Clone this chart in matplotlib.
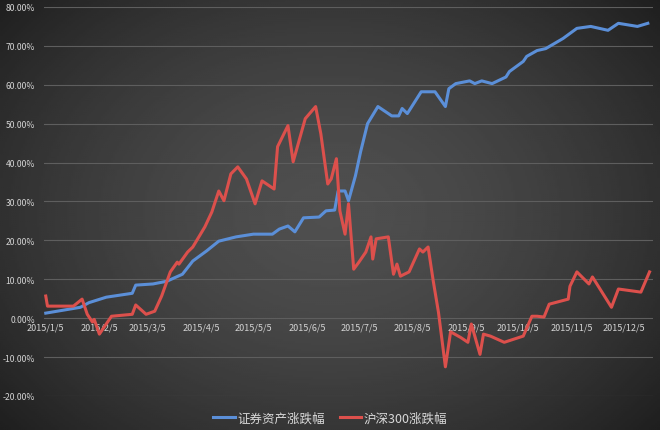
import numpy as np
import pandas as pd
import matplotlib
matplotlib.use('Agg')
import matplotlib.pyplot as plt

plt.rcParams['font.family'] = ['Noto Sans CJK SC', 'DejaVu Sans']

# 证券资产涨跌幅 (blue)
sec_dates = ['2015-01-05', '2015-01-25', '2015-01-30', '2015-02-09', '2015-02-24', '2015-02-26',
             '2015-03-08', '2015-03-16', '2015-03-25', '2015-03-31', '2015-04-08', '2015-04-15',
             '2015-04-25', '2015-05-05', '2015-05-16', '2015-05-20', '2015-05-25', '2015-05-29',
             '2015-06-03', '2015-06-12', '2015-06-16', '2015-06-21', '2015-06-23', '2015-06-27',
             '2015-06-29', '2015-07-03', '2015-07-06', '2015-07-10', '2015-07-16', '2015-07-24',
             '2015-07-28', '2015-07-30', '2015-08-02', '2015-08-10', '2015-08-18', '2015-08-24',
             '2015-08-26', '2015-08-30', '2015-09-07', '2015-09-10', '2015-09-14', '2015-09-20',
             '2015-09-28', '2015-09-30', '2015-10-08', '2015-10-10', '2015-10-16', '2015-10-21',
             '2015-10-31', '2015-11-08', '2015-11-16', '2015-11-26', '2015-12-02', '2015-12-13',
             '2015-12-19']
sec_vals = [1.3, 2.8, 4.0, 5.4, 6.4, 8.5,
            8.8, 9.5, 11.3, 14.7, 17.3, 19.8,
            20.9, 21.6, 21.6, 22.9, 23.7, 22.2,
            25.8, 26.0, 27.6, 27.8, 32.7, 32.7,
            30.2, 36.6, 42.8, 50.0, 54.4, 52.0,
            52.0, 53.9, 52.6, 58.2, 58.2, 54.4,
            59.0, 60.3, 61.0, 60.3, 61.0, 60.3,
            62.0, 63.4, 66.0, 67.3, 68.8, 69.3,
            71.9, 74.5, 75.0, 74.0, 75.8, 75.0,
            75.8]

# 沪深300涨跌幅 (red)
hs_dates = ['2015-01-05', '2015-01-06', '2015-01-21', '2015-01-26', '2015-01-29', '2015-02-01',
            '2015-02-02', '2015-02-05', '2015-02-12', '2015-02-24', '2015-02-26', '2015-03-04',
            '2015-03-09', '2015-03-13', '2015-03-18', '2015-03-22', '2015-03-23', '2015-03-28',
            '2015-03-31', '2015-04-07', '2015-04-11', '2015-04-15', '2015-04-18', '2015-04-22',
            '2015-04-26', '2015-05-01', '2015-05-06', '2015-05-10', '2015-05-17', '2015-05-19',
            '2015-05-25', '2015-05-28', '2015-06-04', '2015-06-10', '2015-06-13', '2015-06-17',
            '2015-06-19', '2015-06-22', '2015-06-24', '2015-06-27', '2015-06-29', '2015-07-02',
            '2015-07-05', '2015-07-09', '2015-07-12', '2015-07-13', '2015-07-15', '2015-07-22',
            '2015-07-25', '2015-07-27', '2015-07-29', '2015-08-03', '2015-08-09', '2015-08-11',
            '2015-08-14', '2015-08-17', '2015-08-20', '2015-08-24', '2015-08-27', '2015-09-02',
            '2015-09-06', '2015-09-08', '2015-09-13', '2015-09-15', '2015-09-19', '2015-09-27',
            '2015-10-08', '2015-10-13', '2015-10-16', '2015-10-20', '2015-10-23', '2015-11-03',
            '2015-11-04', '2015-11-08', '2015-11-15', '2015-11-17', '2015-11-28', '2015-12-02',
            '2015-12-15', '2015-12-20']
hs_vals = [5.7, 3.1, 3.1, 4.9, 1.0, -1.0,
           -0.3, -4.1, 0.5, 1.0, 3.4, 1.0,
           1.8, 5.7, 11.9, 14.4, 13.9, 17.0,
           18.3, 23.5, 27.3, 32.7, 30.2, 37.1,
           38.9, 35.8, 29.4, 35.3, 33.2, 44.1,
           49.5, 40.2, 51.3, 54.4, 47.4, 34.5,
           35.8, 41.0, 27.6, 21.6, 29.4, 12.6,
           14.4, 17.0, 20.9, 15.2, 20.4, 20.9,
           11.3, 13.9, 10.8, 11.9, 17.8, 17.0,
           18.3, 9.5, 1.5, -12.5, -3.5, -5.0,
           -6.2, -1.5, -9.3, -4.1, -4.6, -6.2,
           -4.6, 0.5, 0.5, 0.3, 3.6, 4.9,
           8.2, 11.9, 8.8, 10.6, 2.8, 7.5,
           6.7, 11.9]

tick_months = list(range(1, 13))
y_ticks = list(range(-20, 81, 10))

fig = plt.figure(figsize=(6.6, 4.31), dpi=100)

# dark radial background
bg = fig.add_axes([0, 0, 1, 1], zorder=-1)
gx, gy = np.meshgrid(np.linspace(-1, 1, 330), np.linspace(-1, 1, 216))
r = np.sqrt((gx / 1.05) ** 2 + (gy / 1.2) ** 2)
shade = 0.31 - 0.13 * np.clip(r, 0, 1.4) ** 1.6
bg.imshow(shade, cmap='gray', vmin=0, vmax=1, aspect='auto', extent=[0, 1, 0, 1])
bg.axis('off')

ax = fig.add_axes([0.0667, 0.0789, 0.9227, 0.9026])
ax.set_facecolor('none')

ax.plot(pd.to_datetime(sec_dates), sec_vals, color='#5b8fd8', lw=2.2,
        label='证券资产涨跌幅', solid_joinstyle='round', zorder=3)
ax.plot(pd.to_datetime(hs_dates), hs_vals, color='#dc504c', lw=2.2,
        label='沪深300涨跌幅', solid_joinstyle='round', zorder=3)

ax.set_ylim(-20, 80)
ax.set_xlim(pd.Timestamp('2015-01-04'), pd.Timestamp('2015-12-22'))
ax.set_yticks(y_ticks)
ax.set_yticklabels([f'{v:.2f}%' for v in y_ticks])
ax.grid(axis='y', color='#5e5e5e', lw=0.8)
ax.set_axisbelow(True)

xt = [pd.Timestamp(2015, m, 5) for m in tick_months]
ax.set_xticks(xt)
ax.set_xticklabels([f'2015/{m}/5' for m in tick_months])
ax.spines['bottom'].set_position(('data', 0))
for s in ax.spines.values():
    s.set_visible(False)
ax.tick_params(axis='x', length=0, pad=3, labelsize=6.5, colors='#d4d4d4')
ax.tick_params(axis='y', length=0, pad=6.5, labelsize=6.2, colors='#d4d4d4')

leg = fig.legend(loc='center', bbox_to_anchor=(0.5, 0.028), ncol=2, frameon=False,
                 fontsize=9, handlelength=1.75, handletextpad=0.2, columnspacing=1.2,
                 labelcolor='#d9d9d9')

fig.savefig('out.png', dpi=100)
